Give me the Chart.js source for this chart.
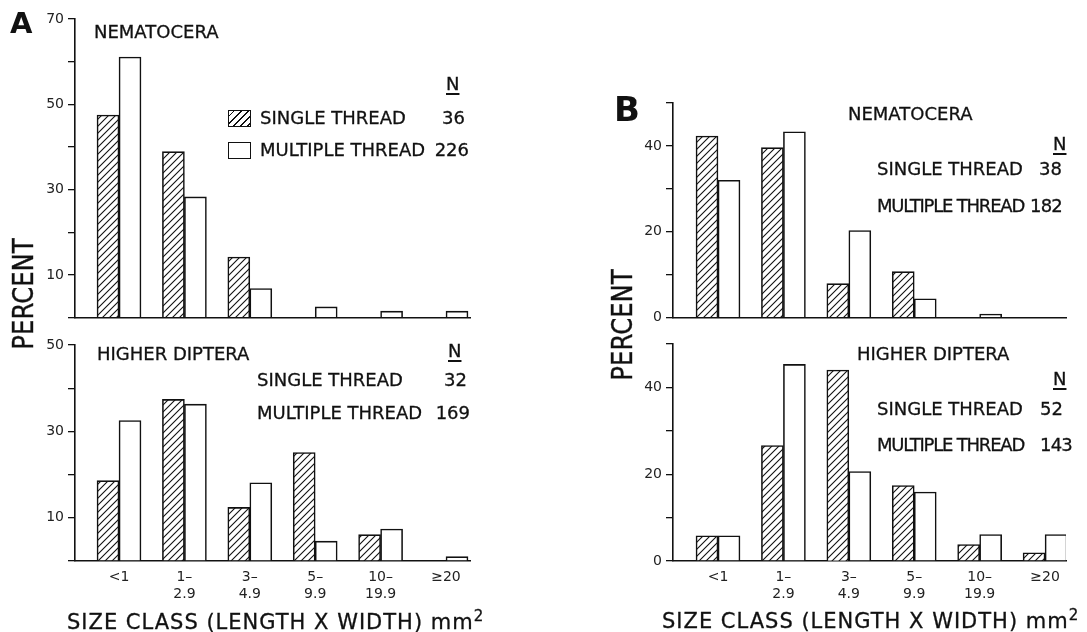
<!DOCTYPE html>
<html>
<head>
<meta charset="utf-8">
<script src="https://cdn.jsdelivr.net/npm/chart.js@4.4.1/dist/chart.umd.min.js"></script>
<style>
body { margin: 0; background: #fff; }
#fig { position: relative; width: 1087px; height: 632px; overflow: hidden; background: #fff;
       font-family: "DejaVu Sans", sans-serif; color: #111; }
#fig canvas { position: absolute; }
.t { position: absolute; font-size: 18px; line-height: 1; white-space: nowrap; transform: translateY(-50%); z-index: 2;
     -webkit-text-stroke: 0.3px #111; }
.tight { letter-spacing: -1.2px; }
.num { letter-spacing: -0.8px; }
.n { text-decoration: underline; text-decoration-thickness: 1.5px; text-underline-offset: 3px; }
.box { position: absolute; width: 21px; height: 15px; border: 1.5px solid #111; background: #fff; z-index: 2; }
.hatch { background: repeating-linear-gradient(135deg, #fff 0 3px, #111 3px 4.2px, #fff 4.2px 5px); }
.letter { position: absolute; font-weight: bold; line-height: 1; transform: translateY(-50%); z-index: 2; }
.xt { position: absolute; font-size: 21px; letter-spacing: 1px; line-height: 1; white-space: nowrap; transform: translateY(-50%); z-index: 2;
      -webkit-text-stroke: 0.3px #111; }
.yt { position: absolute; width: 0; height: 0; z-index: 2; }
.yt span { position: absolute; left: 0; top: 0; font-size: 28px; line-height: 1; white-space: nowrap;
           -webkit-text-stroke: 0.4px #111;
           transform: translate(-50%, -50%) rotate(-90deg) scaleX(0.87); }
</style>
</head>
<body>
<div id="fig">
  <canvas id="a1" width="490" height="330" style="left:0;top:0"></canvas>
  <canvas id="a2" width="490" height="302" style="left:0;top:330px"></canvas>
  <canvas id="b1" width="542" height="330" style="left:545px;top:0"></canvas>
  <canvas id="b2" width="542" height="302" style="left:545px;top:330px"></canvas>

  <div class="letter" style="left:10px;top:23px;font-size:29px">A</div>
  <div class="letter" style="left:614px;top:109px;font-size:34px">B</div>

  <div class="yt" style="left:24px;top:294px"><span>PERCENT</span></div>
  <div class="yt" style="left:623px;top:325px"><span>PERCENT</span></div>

  <div class="xt" style="left:67px;top:621px">SIZE CLASS (LENGTH X WIDTH) mm<sup style="font-size:15px">2</sup></div>
  <div class="xt" style="left:662px;top:620px">SIZE CLASS (LENGTH X WIDTH) mm<sup style="font-size:15px">2</sup></div>

  <!-- A top -->
  <div class="t" style="left:94px;top:32px">NEMATOCERA</div>
  <div class="box hatch" style="left:228px;top:110px"></div>
  <div class="box" style="left:228px;top:142px"></div>
  <div class="t" style="left:260px;top:118px">SINGLE THREAD</div>
  <div class="t" style="left:260px;top:150px">MULTIPLE THREAD</div>
  <div class="t n" style="left:446px;top:84px">N</div>
  <div class="t" style="right:622px;top:118px">36</div>
  <div class="t" style="right:618px;top:150px">226</div>

  <!-- A bottom -->
  <div class="t" style="left:97px;top:354px">HIGHER DIPTERA</div>
  <div class="t n" style="left:448px;top:351px">N</div>
  <div class="t" style="left:257px;top:380px">SINGLE THREAD</div>
  <div class="t" style="left:257px;top:413px">MULTIPLE THREAD</div>
  <div class="t" style="right:620px;top:380px">32</div>
  <div class="t" style="right:617px;top:413px">169</div>

  <!-- B top -->
  <div class="t" style="left:848px;top:114px">NEMATOCERA</div>
  <div class="t n" style="left:1053px;top:144px">N</div>
  <div class="t" style="left:877px;top:169px">SINGLE THREAD</div>
  <div class="t tight" style="left:877px;top:206px">MULTIPLE THREAD</div>
  <div class="t" style="right:25px;top:169px">38</div>
  <div class="t num" style="right:25px;top:206px">182</div>

  <!-- B bottom -->
  <div class="t" style="left:857px;top:354px">HIGHER DIPTERA</div>
  <div class="t n" style="left:1053px;top:379px">N</div>
  <div class="t" style="left:877px;top:409px">SINGLE THREAD</div>
  <div class="t tight" style="left:877px;top:445px">MULTIPLE THREAD</div>
  <div class="t" style="right:24px;top:409px">52</div>
  <div class="t num" style="right:15px;top:445px">143</div>
</div>

<script>
// size classes (mm2), in order along the x axis
const sizeClasses = ["<1", ["1–", "2.9"], ["3–", "4.9"], ["5–", "9.9"], ["10–", "19.9"], "≥20"];

// A: percent per size class
const nemaSingleA = [47.5, 38.9, 14.2, 0, 0, 0];
const nemaMultipleA = [61.1, 28.3, 6.8, 2.5, 1.5, 1.5];
const dipSingleA = [18.6, 37.4, 12.4, 25.1, 6.1, 0];
const dipMultipleA = [32.5, 36.3, 18.1, 4.6, 7.4, 1.0];

// B: percent per size class
const nemaSingleB = [42.3, 39.6, 7.9, 10.7, 0, 0];
const nemaMultipleB = [32.0, 43.3, 20.3, 4.4, 0.8, 0];
const dipSingleB = [5.8, 26.6, 44.0, 17.4, 3.8, 1.9];
const dipMultipleB = [5.8, 45.3, 20.6, 15.9, 6.1, 6.1];

// labelled y ticks
const yLabelsA1 = [10, 30, 50, 70];
const yLabelsA2 = [10, 30, 50];
const yLabelsB = [0, 20, 40];

Chart.defaults.font.family = "'DejaVu Sans', sans-serif";

function makeHatch() {
	let c = document.createElement('canvas');
	c.width = 7;
	c.height = 7;
	let g = c.getContext('2d');
	g.fillStyle = '#fff';
	g.fillRect(0, 0, 7, 7);
	g.strokeStyle = '#111';
	g.lineWidth = 1.1;
	g.beginPath();
	g.moveTo(-1, 8); g.lineTo(8, -1);
	g.moveTo(-2, 2); g.lineTo(2, -2);
	g.moveTo(5, 9); g.lineTo(9, 5);
	g.stroke();
	return g.createPattern(c, 'repeat');
}

function makeChart(id, single, multiple, yMax, yLabels, xMin, xMax, yWidth, pad, showX) {
	let ctx = document.getElementById(id).getContext('2d');
	return new Chart(ctx, {
		type: 'bar',
		data: {
			datasets: [{
				label: 'SINGLE THREAD',
				data: single.map((v, i) => ({x: i, y: v})),
				backgroundColor: makeHatch(),
				borderColor: '#111',
				borderWidth: 1.6,
				barThickness: 22,
			}, {
				label: 'MULTIPLE THREAD',
				data: multiple.map((v, i) => ({x: i, y: v})),
				backgroundColor: '#fff',
				borderColor: '#111',
				borderWidth: 1.6,
				barThickness: 22,
			}]
		},
		options: {
			responsive: false,
			animation: false,
			layout: {padding: pad},
			plugins: {
				legend: {display: false},
				tooltip: {enabled: false},
			},
			scales: {
				x: {
					type: 'linear',
					offset: false,
					min: xMin,
					max: xMax,
					grid: {display: false, drawTicks: false},
					border: {display: true, color: '#111', width: 1.6},
					afterBuildTicks: s => { s.ticks = sizeClasses.map((c, i) => ({value: i})); },
					ticks: {
						display: showX,
						padding: 8,
						color: '#222',
						maxRotation: 0,
						autoSkip: false,
						font: {size: 14},
						callback: v => sizeClasses[v],
					},
					afterFit: s => { s.height = showX ? 40 : 0; },
				},
				y: {
					min: 0,
					max: yMax,
					ticks: {
						stepSize: 10,
						padding: 4,
						color: '#222',
						font: {size: 14},
						callback: v => yLabels.includes(v) ? v : '',
					},
					grid: {drawOnChartArea: false, drawTicks: true, tickLength: 7, color: '#111', lineWidth: 1.3},
					border: {display: true, color: '#111', width: 1.6},
					afterFit: s => { s.width = yWidth; },
				},
			},
		},
	});
}

makeChart('a1', nemaSingleA, nemaMultipleA, 70, yLabelsA1, -0.673, 5.367, 75, {top: 19, right: 20, bottom: 8, left: 0}, false);
makeChart('a2', dipSingleA, dipMultipleA, 50, yLabelsA2, -0.673, 5.367, 75, {top: 15, right: 20, bottom: 31, left: 0}, true);
makeChart('b1', nemaSingleB, nemaMultipleB, 50, yLabelsB, -0.688, 5.32, 128, {top: 103, right: 21, bottom: 9, left: 0}, false);
makeChart('b2', dipSingleB, dipMultipleB, 50, yLabelsB, -0.688, 5.32, 128, {top: 14, right: 21, bottom: 31, left: 0}, true);
</script>
</body>
</html>
